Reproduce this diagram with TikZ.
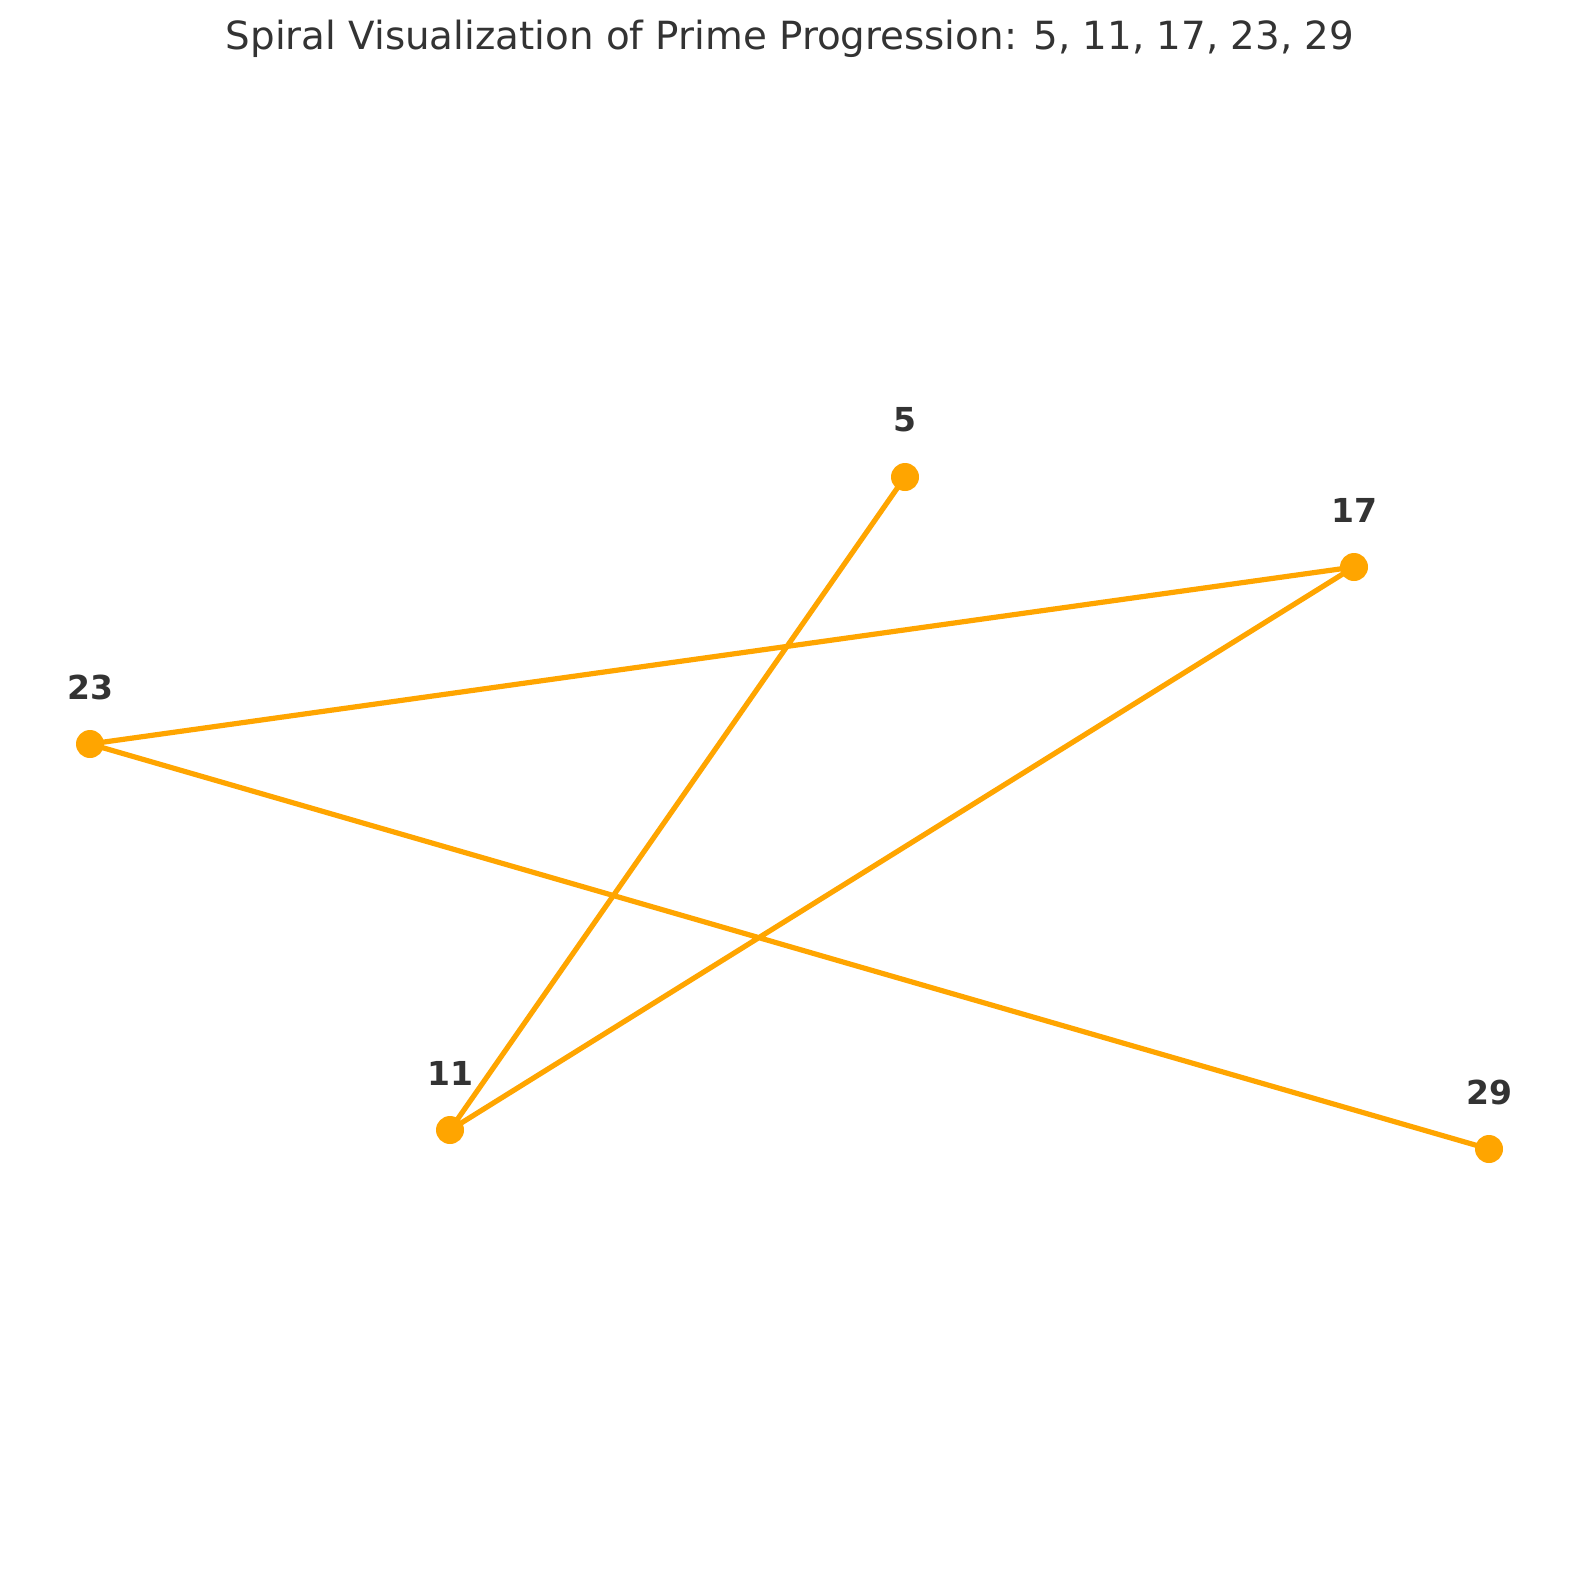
\documentclass[tikz,border=0pt]{standalone}
\usepackage{fontspec}
\setmainfont{DejaVu Sans}
\definecolor{mplorange}{HTML}{FFA500}
\definecolor{txt}{HTML}{333333}
\begin{document}
\begin{tikzpicture}[x=0.5pt,y=-0.5pt,
  pt/.style={circle,fill=mplorange,inner sep=0pt,minimum size=14pt},
  lbl/.style={text=txt,font=\fontsize{16.5}{18}\selectfont\bfseries,inner sep=0pt},
  conn/.style={draw=mplorange,line width=2.6pt}]
\useasboundingbox[fill=white] (0,0) rectangle (1580,1580);
\node[text=txt,font=\fontsize{19.4}{22}\selectfont,anchor=base] (title) at (790,49) {Spiral Visualization of Prime Progression: 5, 11, 17, 23, 29};
\coordinate (p5) at (905,477);
\coordinate (p11) at (450,1130);
\coordinate (p17) at (1354,567);
\coordinate (p23) at (90,744);
\coordinate (p29) at (1489,1149);
\draw[conn] (p5) -- (p11) -- (p17) -- (p23) -- (p29);
\foreach \n in {5,11,17,23,29} {\node[pt] (m\n) at (p\n) {};}
\node[lbl] (l5) at ([yshift=28.5pt]p5) {5};
\node[lbl] (l11) at ([yshift=28.5pt]p11) {11};
\node[lbl] (l17) at ([yshift=28.5pt]p17) {17};
\node[lbl] (l23) at ([yshift=28.5pt]p23) {23};
\node[lbl] (l29) at ([yshift=28.5pt]p29) {29};
\end{tikzpicture}
\end{document}
